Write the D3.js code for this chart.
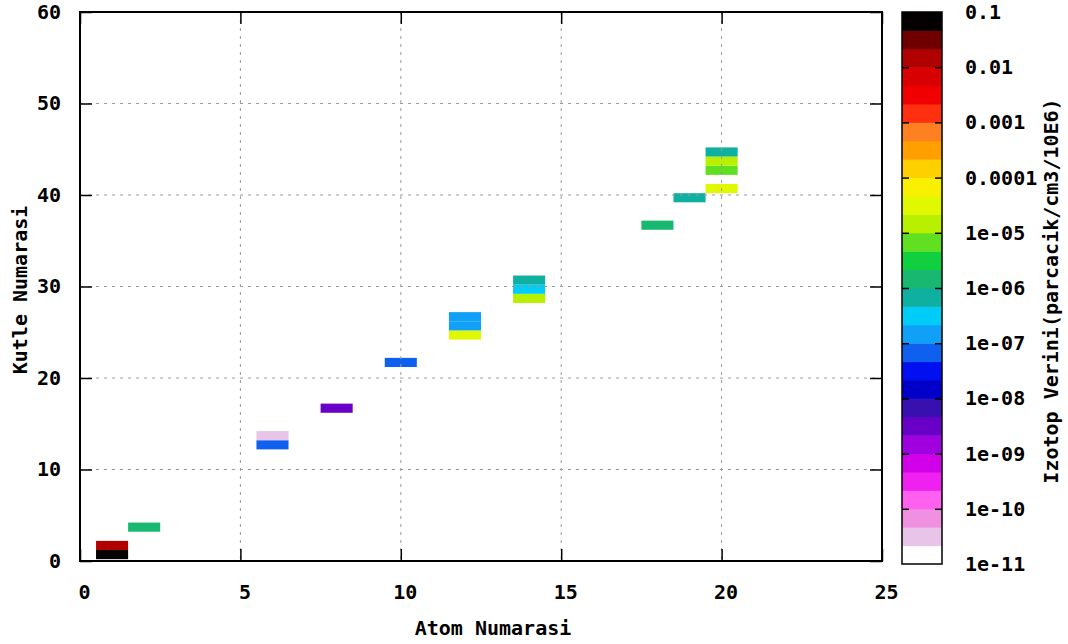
<!DOCTYPE html>
<html>
<head>
<meta charset="utf-8">
<script src="https://cdn.jsdelivr.net/npm/d3@7.9.0/dist/d3.min.js"></script>
<style>
  body { margin: 0; background: #fff; }
  svg text { font-family: "DejaVu Sans Mono", "Liberation Mono", monospace; font-weight: bold; font-size: 20px; fill: #000; }
</style>
</head>
<body>
<svg id="chart" width="1068" height="644"></svg>
<script>
// isotope cells: atom number, mass number, abundance
const atomNo    = [1, 1, 2, 6, 6, 8, 10, 12, 12, 12, 14, 14, 14, 18, 19, 20, 20, 20, 20];
const massNo    = [0, 1, 3, 12, 13, 16, 21, 24, 25, 26, 28, 29, 30, 36, 39, 40, 42, 43, 44];
const abundance = [0.08, 0.02, 2e-6, 7e-8, 3e-11, 3.5e-9, 7e-8, 3e-5, 1.5e-7, 1.5e-7,
                   1.5e-5, 3e-7, 7e-7, 1.5e-6, 7e-7, 3e-5, 7e-6, 1.5e-5, 7e-7];

const xTicks = [0, 5, 10, 15, 20, 25];
const yTicks = [0, 10, 20, 30, 40, 50, 60];
const cbTicks = [0.1, 0.01, 0.001, 0.0001, 1e-5, 1e-6, 1e-7, 1e-8, 1e-9, 1e-10, 1e-11];
const cbLabels = ['0.1', '0.01', '0.001', '0.0001', '1e-05', '1e-06', '1e-07', '1e-08', '1e-09', '1e-10', '1e-11'];

// palette, low -> high (30 steps over 10 decades)
const palette = [
  '#ffffff', '#e8c4e8', '#f090e0', '#ff60f0', '#f020f0', '#d000e8', '#a000e0', '#6800c8',
  '#3810b0', '#0000c8', '#0010f0', '#1060f0', '#10a0f8', '#00ccf8', '#10b0a0', '#18b870',
  '#10d040', '#60e020', '#b8f000', '#e0f800', '#f8f000', '#ffd000', '#ffa000', '#ff8020',
  '#ff3010', '#f00000', '#d80000', '#b00000', '#700000', '#050000'
];

const svg = d3.select('#chart');
const plot = { left: 80, right: 882, top: 12, bottom: 561 };

const x = d3.scaleLinear().domain([0, 25]).range([plot.left, plot.right]);
const y = d3.scaleLinear().domain([0, 60]).range([plot.bottom, plot.top]);

const color = d3.scaleQuantize().domain([-11, -1]).range(palette);

// cells
svg.append('g')
  .selectAll('rect')
  .data(atomNo.map((z, i) => ({ z, a: massNo[i], v: abundance[i] })))
  .join('rect')
  .attr('x', d => x(d.z - 0.5))
  .attr('width', d => x(d.z + 0.5) - x(d.z - 0.5))
  .attr('y', d => y(d.a + 1.2))
  .attr('height', d => y(d.a + 0.2) - y(d.a + 1.2))
  .attr('fill', d => color(Math.log10(d.v)));

// grid
const grid = svg.append('g').attr('stroke', '#9a9a9a').attr('stroke-width', 1).attr('stroke-dasharray', '3,5');
grid.selectAll('.gx').data(xTicks.slice(1, -1)).join('line')
  .attr('x1', d => x(d)).attr('x2', d => x(d))
  .attr('y1', plot.top).attr('y2', plot.bottom);
grid.selectAll('.gy').data(yTicks.slice(1, -1)).join('line')
  .attr('y1', d => y(d)).attr('y2', d => y(d))
  .attr('x1', plot.left).attr('x2', plot.right);

// axes
function styleAxis(g) {
  g.select('.domain').remove();
  g.selectAll('.tick line').attr('stroke', '#000').attr('stroke-width', 1.5);
  g.selectAll('text').attr('font-family', null).attr('font-size', null).attr('fill', '#000');
}

svg.append('g')
  .attr('transform', `translate(0,${plot.bottom})`)
  .call(d3.axisBottom(x).tickValues(xTicks).tickFormat(d3.format('d')).tickSize(-12).tickPadding(24))
  .call(styleAxis)
  .selectAll('text').attr('dx', 4);

svg.append('g')
  .attr('transform', `translate(0,${plot.top})`)
  .call(d3.axisTop(x).tickValues(xTicks).tickFormat('').tickSize(-12))
  .call(styleAxis);

svg.append('g')
  .attr('transform', `translate(${plot.left},0)`)
  .call(d3.axisLeft(y).tickValues(yTicks).tickFormat(d3.format('d')).tickSize(-12).tickPadding(19))
  .call(styleAxis);

svg.append('g')
  .attr('transform', `translate(${plot.right},0)`)
  .call(d3.axisRight(y).tickValues(yTicks).tickFormat('').tickSize(-12))
  .call(styleAxis);

svg.append('rect')
  .attr('x', plot.left).attr('y', plot.top)
  .attr('width', plot.right - plot.left).attr('height', plot.bottom - plot.top)
  .attr('fill', 'none').attr('stroke', '#000').attr('stroke-width', 2);

// axis titles
svg.append('text')
  .attr('x', 493).attr('y', 635)
  .attr('text-anchor', 'middle')
  .text('Atom Numarasi');

svg.append('text')
  .attr('transform', 'translate(27,290) rotate(-90)')
  .attr('text-anchor', 'middle')
  .text('Kutle Numarasi');

// colorbar
const cb = { left: 902, right: 942, top: 12, bottom: 564 };
const cbScale = d3.scaleLog().domain([1e-11, 0.1]).range([cb.bottom, cb.top]);
const step = 10 / palette.length;

svg.append('g')
  .selectAll('rect')
  .data(palette)
  .join('rect')
  .attr('x', cb.left)
  .attr('width', cb.right - cb.left)
  .attr('y', (d, i) => cbScale(Math.pow(10, -11 + (i + 1) * step)))
  .attr('height', (d, i) => cbScale(Math.pow(10, -11 + i * step)) - cbScale(Math.pow(10, -11 + (i + 1) * step)) + 0.5)
  .attr('fill', d => d);

const cbInner = cbTicks.slice(1, -1);
svg.append('g')
  .attr('transform', `translate(${cb.left},0)`)
  .call(d3.axisLeft(cbScale).tickValues(cbInner).tickFormat('').tickSize(-7))
  .call(styleAxis);
svg.append('g')
  .attr('transform', `translate(${cb.right},0)`)
  .call(d3.axisRight(cbScale).tickValues(cbInner).tickFormat('').tickSize(-7))
  .call(styleAxis);

svg.append('rect')
  .attr('x', cb.left).attr('y', cb.top)
  .attr('width', cb.right - cb.left).attr('height', cb.bottom - cb.top)
  .attr('fill', 'none').attr('stroke', '#000').attr('stroke-width', 1.5);

svg.append('g')
  .selectAll('text')
  .data(cbTicks)
  .join('text')
  .attr('x', 965)
  .attr('y', d => cbScale(d))
  .attr('dy', '0.35em')
  .text((d, i) => cbLabels[i]);

svg.append('text')
  .attr('transform', 'translate(1058,291) rotate(-90)')
  .attr('text-anchor', 'middle')
  .text('Izotop Verini(parcacik/cm3/10E6)');
</script>
</body>
</html>
